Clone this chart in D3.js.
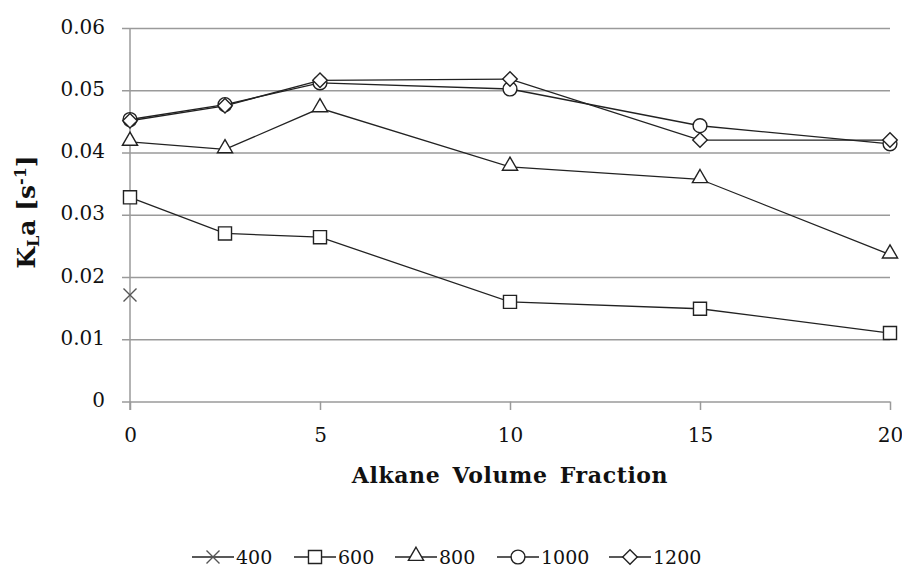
<!DOCTYPE html>
<html>
<head>
<meta charset="utf-8">
<script src="https://cdn.jsdelivr.net/npm/d3@7"></script>
<style>
  body { margin: 0; background: #fff; }
  svg text { font-family: "DejaVu Serif", serif; fill: #111; }
</style>
</head>
<body>
<div id="chart"></div>
<script>
// x values (alkane volume fraction, %)
const fractions = [0, 2.5, 5, 10, 15, 20];
const seriesNames = ["400", "600", "800", "1000", "1200"];
const kla400 = [0.0171];
const kla600 = [0.0328, 0.0270, 0.0264, 0.0160, 0.0149, 0.0110];
const kla800 = [0.0417, 0.0405, 0.0471, 0.0377, 0.0357, 0.0236];
const kla1000 = [0.0453, 0.0477, 0.0512, 0.0502, 0.0443, 0.0414];
const kla1200 = [0.0451, 0.0475, 0.0516, 0.0518, 0.0420, 0.0420];
const xTicks = [0, 5, 10, 15, 20];
const yTicks = [0, 0.01, 0.02, 0.03, 0.04, 0.05, 0.06];

const series = [kla400, kla600, kla800, kla1000, kla1200].map((vals, i) => ({
  name: seriesNames[i],
  points: vals.map((v, j) => ({ x: fractions[j], y: v }))
}));
const shapes = ["times", "square", "triangle", "circle", "diamond"];

const W = 902, H = 571;
const plotL = 130, plotR = 890, plotT = 28, plotB = 401.5;

const svg = d3.select("#chart").append("svg")
    .attr("width", W)
    .attr("height", H);

const x = d3.scaleLinear().domain([0, 20]).range([plotL, plotR]);
const y = d3.scaleLinear().domain([0, 0.06]).range([plotB, plotT]);

// gridlines + y labels
const yAxis = svg.append("g")
    .attr("transform", `translate(${plotL},0)`)
    .call(d3.axisLeft(y).tickValues(yTicks).tickSizeOuter(0)
      .tickFormat(d => d === 0 ? "0" : d3.format(".2f")(d)));
yAxis.select(".domain").remove();
yAxis.selectAll(".tick line")
    .attr("x1", -8).attr("x2", plotR - plotL)
    .attr("stroke", "#9a9a9a").attr("stroke-width", 1.5);
yAxis.selectAll(".tick text")
    .attr("x", -25).attr("dy", "0.25em")
    .style("font-size", "20px");

// vertical axis line
svg.append("line")
    .attr("x1", plotL).attr("x2", plotL)
    .attr("y1", plotT).attr("y2", plotB + 8.5)
    .attr("stroke", "#9a9a9a").attr("stroke-width", 1.5);

// x axis
const xAxis = svg.append("g")
    .attr("transform", `translate(0,${plotB})`)
    .call(d3.axisBottom(x).tickValues(xTicks).tickSizeOuter(0).tickSizeInner(8.5));
xAxis.select(".domain").remove();
xAxis.selectAll(".tick line").attr("stroke", "#9a9a9a").attr("stroke-width", 1.5);
xAxis.selectAll(".tick text")
    .attr("y", 40).attr("dy", 0)
    .style("font-size", "20px");

// axis titles
svg.append("text")
    .attr("x", x(10))
    .attr("y", 483)
    .attr("text-anchor", "middle")
    .style("font-size", "22px")
    .style("font-weight", "bold")
    .style("letter-spacing", "0.6px")
    .style("word-spacing", "4px")
    .text("Alkane Volume Fraction");

const yt = svg.append("text")
    .attr("transform", "translate(35,212) rotate(-90)")
    .attr("text-anchor", "middle")
    .style("font-size", "25px")
    .style("font-weight", "bold");
yt.append("tspan").text("K");
yt.append("tspan").attr("baseline-shift", "-25%").style("font-size", "16px").text("L");
yt.append("tspan").text("a [s");
yt.append("tspan").attr("baseline-shift", "super").style("font-size", "16px").text("-1");
yt.append("tspan").text("]");

// marker shapes
function markerPath(shape) {
  if (shape === "times") {
    const r = 6.5;
    return `M${-r},${-r}L${r},${r}M${-r},${r}L${r},${-r}`;
  }
  if (shape === "square") return d3.symbol(d3.symbolSquare, 170)();
  if (shape === "triangle") return d3.symbol(d3.symbolTriangle, 100)();
  if (shape === "circle") return d3.symbol(d3.symbolCircle, 150)();
  return d3.symbol(d3.symbolSquare, 105)();
}
function drawMarker(g, shape) {
  g.append("path")
    .attr("d", markerPath(shape))
    .attr("transform", shape === "diamond" ? "rotate(45)" : shape === "triangle" ? "translate(0,-1)" : null)
    .attr("fill", shape === "times" ? "none" : "#fff")
    .attr("stroke", shape === "times" ? "#555" : "#222")
    .attr("stroke-width", 1.4);
}

const line = d3.line().x(d => x(d.x)).y(d => y(d.y));

series.forEach((s, i) => {
  const g = svg.append("g");
  g.append("path")
    .datum(s.points)
    .attr("d", line)
    .attr("fill", "none")
    .attr("stroke", "#222")
    .attr("stroke-width", 1.3);
  g.selectAll("g.m")
    .data(s.points)
    .join("g")
    .attr("class", "m")
    .attr("transform", d => `translate(${x(d.x)},${y(d.y)})`)
    .each(function () { drawMarker(d3.select(this), shapes[i]); });
});

// legend
const legendX = [192, 294, 395, 497, 609];
series.forEach((s, i) => {
  const g = svg.append("g").attr("transform", `translate(${legendX[i]},557)`);
  g.append("line")
    .attr("x1", 0).attr("x2", 42)
    .attr("stroke", "#222").attr("stroke-width", 1.3);
  const m = g.append("g").attr("transform", "translate(21,0)");
  drawMarker(m, shapes[i]);
  g.append("text")
    .attr("x", 44).attr("dy", "0.35em")
    .style("font-size", "19px")
    .text(s.name);
});
</script>
</body>
</html>
